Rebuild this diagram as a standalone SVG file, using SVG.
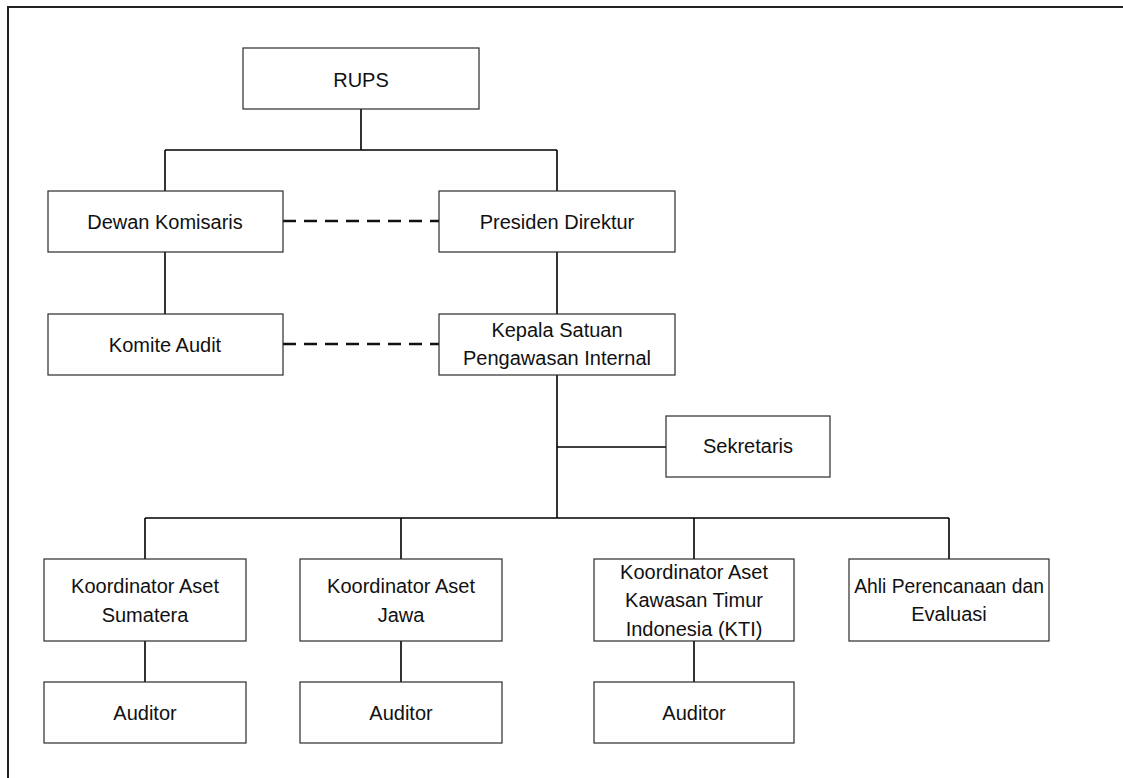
<svg xmlns="http://www.w3.org/2000/svg" width="1123" height="778" viewBox="0 0 1123 778">
<style>
.box{fill:#fff;stroke:#2b2b2b;stroke-width:1.2}
.t{font-family:"Liberation Sans",Arial,sans-serif;font-size:20px;fill:#111;text-anchor:middle}
.ln{fill:none;stroke:#000;stroke-width:1.6}
.dash{fill:none;stroke:#111;stroke-width:2.4;stroke-dasharray:13 8}
</style>
<rect width="1123" height="778" fill="#fff"/>
<path d="M8,778 V7 H1123" fill="none" stroke="#222" stroke-width="2"/>
<g id="connectors">
<path class="ln" d="M361,109 V150 M165,150 H557 M165,150 V191 M557,150 V191"/>
<path class="ln" d="M165,252 V314 M557,252 V314 M557,375 V518 M557,447 H666"/>
<path class="ln" d="M145,518 H949 M145,518 V559 M401,518 V559 M694,518 V559 M949,518 V559"/>
<path class="ln" d="M145,641 V682 M401,641 V682 M694,641 V682"/>
<path class="dash" d="M283,221 H439 M283,344 H439"/>
</g>
<g id="rups"><rect class="box" x="243" y="48" width="236" height="61"/><text class="t" x="361" y="87">RUPS</text></g>
<g id="dewan"><rect class="box" x="48" y="191" width="235" height="61"/><text class="t" x="165" y="229">Dewan Komisaris</text></g>
<g id="presiden"><rect class="box" x="439" y="191" width="236" height="61"/><text class="t" x="557" y="229">Presiden Direktur</text></g>
<g id="komite"><rect class="box" x="48" y="314" width="235" height="61"/><text class="t" x="165" y="352">Komite Audit</text></g>
<g id="kepala"><rect class="box" x="439" y="314" width="236" height="61"/><text class="t" x="557" y="337">Kepala Satuan</text><text class="t" x="557" y="365">Pengawasan Internal</text></g>
<g id="sekretaris"><rect class="box" x="666" y="416" width="164" height="61"/><text class="t" x="748" y="453">Sekretaris</text></g>
<g id="sumatera"><rect class="box" x="44" y="559" width="202" height="82"/><text class="t" x="145" y="593">Koordinator Aset</text><text class="t" x="145" y="622">Sumatera</text></g>
<g id="jawa"><rect class="box" x="300" y="559" width="202" height="82"/><text class="t" x="401" y="593">Koordinator Aset</text><text class="t" x="401" y="622">Jawa</text></g>
<g id="kti"><rect class="box" x="594" y="559" width="200" height="82"/><text class="t" x="694" y="579">Koordinator Aset</text><text class="t" x="694" y="607">Kawasan Timur</text><text class="t" x="694" y="636">Indonesia (KTI)</text></g>
<g id="ahli"><rect class="box" x="849" y="559" width="200" height="82"/><text class="t" x="949" y="593" style="font-size:19.3px">Ahli Perencanaan dan</text><text class="t" x="949" y="621">Evaluasi</text></g>
<g id="auditor1"><rect class="box" x="44" y="682" width="202" height="61"/><text class="t" x="145" y="720">Auditor</text></g>
<g id="auditor2"><rect class="box" x="300" y="682" width="202" height="61"/><text class="t" x="401" y="720">Auditor</text></g>
<g id="auditor3"><rect class="box" x="594" y="682" width="200" height="61"/><text class="t" x="694" y="720">Auditor</text></g>
</svg>
